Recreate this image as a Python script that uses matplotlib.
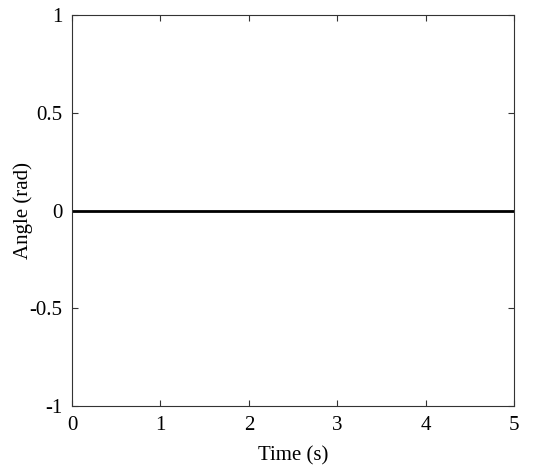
import matplotlib
matplotlib.use("Agg")
import matplotlib.pyplot as plt

plt.rcParams['font.family'] = ['Liberation Serif', 'DejaVu Serif']

time_s = [0, 1, 2, 3, 4, 5]
angle_rad = [0, 0, 0, 0, 0, 0]
x_ticks = [0, 1, 2, 3, 4, 5]
y_ticks = [-1, -0.5, 0, 0.5, 1]
y_tick_labels = ['-1', '-0.5', '0', '0.5', '1']

fig = plt.figure(figsize=(5.54, 4.68), dpi=100)
ax = fig.add_axes([0.130, 0.132, 0.798, 0.836])
ax.plot(time_s, angle_rad, color='black', linewidth=2)
ax.set_xlim(0, 5)
ax.set_ylim(-1, 1)
ax.set_xticks(x_ticks)
ax.set_xticklabels([str(t) for t in x_ticks])
ax.set_yticks(y_ticks)
ax.set_yticklabels(y_tick_labels)
ax.tick_params(direction='in', top=True, right=True, labelsize=15, length=4,
               pad=7, color='#333333')
for s in ax.spines.values():
    s.set_color('#333333')
ax.set_xlabel('Time (s)', fontsize=15, labelpad=8)
ax.set_ylabel('Angle (rad)', fontsize=15, labelpad=-3)
fig.savefig('out.png', dpi=100)
